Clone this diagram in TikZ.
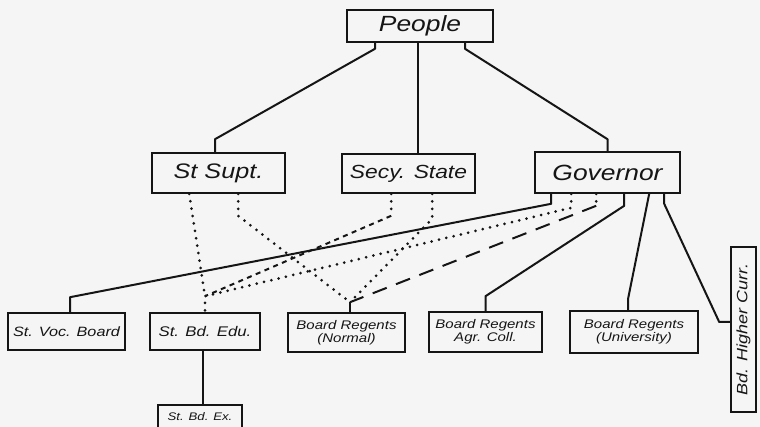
\documentclass[tikz,border=0pt]{standalone}
\usepackage{fontspec}
\usepackage{graphicx}
\newfontfamily\hand[FakeStretch=1.2]{Liberation Sans}
\newcommand\handsize[1]{\fontsize{#1}{#1}\selectfont}
\definecolor{ink}{HTML}{151515}
\definecolor{paper}{HTML}{F5F5F5}
\begin{document}
\begin{tikzpicture}[x=1pt,y=-1pt,
  box/.style={draw=ink, line width=1.6pt, inner sep=0pt, align=center, text=ink},
  conn/.style={draw=ink, line width=2pt, line join=round},
  dots/.style={draw=ink, line width=3pt, line cap=round, dash pattern=on 0pt off 7.5pt},
  sdash/.style={draw=ink, line width=2pt, dash pattern=on 5pt off 4.5pt},
  ldash/.style={draw=ink, line width=2pt, dash pattern=on 15pt off 10pt},
]
\fill[paper] (0,0) rectangle (760,427);
\useasboundingbox (0,0) rectangle (760,427);
\clip (0,0) rectangle (760,427);

% offices
\node[box, minimum width=146, minimum height=32, font=\hand\itshape\handsize{22}] (p) at (420,26) {People};
\node[box, minimum width=133, minimum height=40, font=\hand\itshape\handsize{21}] (sup) at (218.5,173) {St Supt.};
\node[box, minimum width=133, minimum height=39, font=\hand\itshape\handsize{19}] (sec) at (408.5,173.5) {Secy. State};
\node[box, minimum width=145, minimum height=41, font=\hand\itshape\handsize{22}] (gov) at (607.5,172.5) {Governor};

% boards
\node[box, minimum width=117, minimum height=37, font=\hand\itshape\handsize{13.5}] (voc) at (66.5,331.5) {St. Voc. Board};
\node[box, minimum width=110, minimum height=37, font=\hand\itshape\handsize{14}] (edu) at (205,331.5) {St. Bd. Edu.};
\node[box, minimum width=117, minimum height=39, font=\hand\itshape\fontsize{12.5}{13}\selectfont] (nor) at (346.5,332.5) {Board Regents\\(Normal)};
\node[box, minimum width=113, minimum height=40, font=\hand\itshape\fontsize{12.5}{13}\selectfont] (agr) at (485.5,332) {Board Regents\\Agr. Coll.};
\node[box, minimum width=128, minimum height=42, font=\hand\itshape\fontsize{12.5}{13}\selectfont] (uni) at (634,332) {Board Regents\\(University)};
\node[box, minimum width=25, minimum height=165, font=\hand\itshape\handsize{15}] (hic) at (743.5,329.5) {\rotatebox{90}{Bd. Higher Curr.}};
\node[box, minimum width=84, minimum height=26, font=\hand\itshape\handsize{11}] (ex) at (200,418) {\raisebox{3pt}{St. Bd. Ex.}};

% junction points above the boards
\coordinate (jedu) at ([yshift=16pt]edu.north);
\coordinate (jnor) at ([xshift=3.5pt,yshift=10pt]nor.north);
\coordinate (secl) at ([xshift=50pt,yshift=-22pt]sec.south west);

% People to the three offices
\draw[conn] ([xshift=-45pt]p.south) -- ++(0,6) -- ([xshift=-3.5pt,yshift=13pt]sup.north) -- ([xshift=-3.5pt]sup.north);
\draw[conn] ([xshift=-2pt]p.south) -- ([xshift=9.5pt]sec.north);
\draw[conn] ([xshift=45pt]p.south) -- ++(0,6) -- ([yshift=12pt]gov.north) -- (gov.north);

% Governor
\draw[conn] ([xshift=17pt]gov.south west) -- ++(0,10) -- ([xshift=3.5pt,yshift=15pt]voc.north) -- ([xshift=3.5pt]voc.north);
\draw[dots] ([xshift=37pt]gov.south west) -- ++(0,14) -- (jedu) -- (edu.north);
\draw[dots] ([xshift=62pt]gov.south west) -- ++(0,12) coordinate (govc);
\draw[ldash] (govc) -- (jnor);
\draw[conn] ([xshift=90pt]gov.south west) -- ++(0,12) -- ([yshift=15pt]agr.north) -- (agr.north);
\draw[conn] ([xshift=115pt]gov.south west) -- ([xshift=-6pt,yshift=11pt]uni.north) -- ([xshift=-6pt]uni.north);
\draw[conn] ([xshift=130pt]gov.south west) -- ++(0,10) -- ([xshift=-11pt,yshift=7.5pt]hic.west) -- ([yshift=7.5pt]hic.west);

% State Superintendent
\draw[dots] ([xshift=38pt]sup.south west) -- (jedu);
\draw[dots] ([xshift=87pt]sup.south west) -- ++(0,22) -- (jnor);

% Secretary of State
\draw[dots] ([xshift=50pt]sec.south west) -- (secl);
\draw[sdash] (secl) -- (jedu);
\draw[dots] ([xshift=91pt]sec.south west) -- ++(0,25) -- (jnor);

% stubs into the boards
\draw[conn] (jnor) -- ([xshift=3.5pt]nor.north);
\draw[conn] ([xshift=-2pt]edu.south) -- ([xshift=3pt]ex.north);
\end{tikzpicture}
\end{document}
